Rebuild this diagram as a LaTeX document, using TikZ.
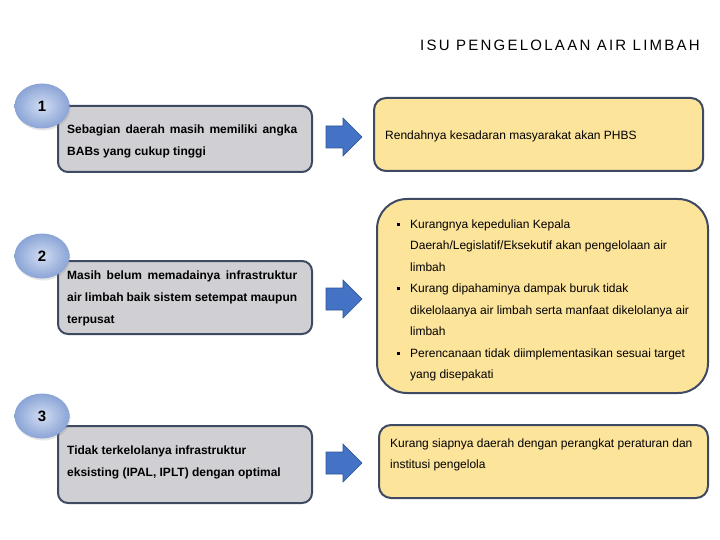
\documentclass[tikz,border=0pt]{standalone}
\usepackage{fontspec}
\setmainfont{Liberation Sans}
\usetikzlibrary{shapes.geometric,shadows}
\definecolor{grayfill}{HTML}{D0D0D4}
\definecolor{yelfill}{HTML}{FDE49B}
\definecolor{edge}{HTML}{3E4A61}
\definecolor{arrfill}{HTML}{4472C4}
\definecolor{arredge}{HTML}{2F5597}
\definecolor{ballin}{HTML}{D2DDF2}
\definecolor{ballout}{HTML}{8AA4D6}
\newcommand{\sqbullet}{\llap{\raisebox{2.5pt}{\rule{3pt}{3pt}}\hspace{10pt}}}
\begin{document}
\begin{tikzpicture}[x=1pt,y=-1pt,
  graybox/.style={draw=edge,line width=2pt,fill=grayfill,rounded corners=10pt,anchor=north west,inner sep=0pt},
  yelbox/.style={draw=edge,line width=2pt,fill=yelfill,rounded corners=12pt,anchor=north west,inner sep=0pt},
  numball/.style={ellipse,minimum width=55pt,minimum height=45pt,inner sep=0pt,inner color=ballin,outer color=ballout,
    drop shadow={opacity=0.2,shadow xshift=1pt,shadow yshift=-2pt},font=\fontsize{15}{15}\selectfont\bfseries},
  arrowshape/.style={fill=arrfill,draw=arredge,line width=0.6pt,line join=miter},
  boldtxt/.style={anchor=west,inner sep=0pt,align=left,font=\fontsize{12}{22}\selectfont\bfseries},
  regtxt/.style={anchor=west,inner sep=0pt,align=left,font=\fontsize{12}{21.5}\selectfont}]
\useasboundingbox (0,0) rectangle (720,540);

% title
\node[inner sep=0pt,font=\fontsize{15}{17}\selectfont] (title) at (560,45) {\addfontfeature{LetterSpace=15}ISU PENGELOLAAN AIR LIMBAH};

% row 1
\node[graybox,minimum width=254pt,minimum height=66pt] (g1) at (57,105) {};
\node[numball] (c1) at (42,106) {1};
\node[boldtxt] (t1) at (67,141) {\makebox[230pt][s]{Sebagian daerah masih memiliki angka}\\BABs yang cukup tinggi};
\coordinate (a1) at (326,137);
\draw[arrowshape] (a1) ++(0,-11) -- ++(17,0) -- ++(0,-8) -- ++(19,19) -- ++(-19,19) -- ++(0,-8) -- ++(-17,0) -- cycle;
\node[yelbox,minimum width=329pt,minimum height=73pt] (y1) at (373,97) {};
\node[regtxt] (r1) at (385,136) {Rendahnya kesadaran masyarakat akan PHBS};

% row 2
\node[graybox,minimum width=254pt,minimum height=73pt] (g2) at (57,260) {};
\node[numball] (c2) at (42,256) {2};
\node[boldtxt] (t2) at (67,298) {\makebox[230pt][s]{Masih belum memadainya infrastruktur}\\\makebox[230pt][s]{air limbah baik sistem setempat maupun}\\terpusat};
\coordinate (a2) at (326,299);
\draw[arrowshape] (a2) ++(0,-11) -- ++(17,0) -- ++(0,-8) -- ++(19,19) -- ++(-19,19) -- ++(0,-8) -- ++(-17,0) -- cycle;
\node[yelbox,rounded corners=30pt,minimum width=331pt,minimum height=194pt] (y2) at (376,198) {};
\node[regtxt] (r2) at (410,300.5) {\sqbullet Kurangnya kepedulian Kepala\\Daerah/Legislatif/Eksekutif akan pengelolaan air\\limbah\\\sqbullet Kurang dipahaminya dampak buruk tidak\\dikelolaanya air limbah serta manfaat dikelolanya air\\limbah\\\sqbullet Perencanaan tidak diimplementasikan sesuai target\\yang disepakati};

% row 3
\node[graybox,minimum width=254pt,minimum height=77pt] (g3) at (57,425) {};
\node[numball] (c3) at (42,416) {3};
\node[boldtxt] (t3) at (67,462.5) {Tidak terkelolanya infrastruktur\\eksisting (IPAL, IPLT) dengan optimal};
\coordinate (a3) at (326,463);
\draw[arrowshape] (a3) ++(0,-11) -- ++(17,0) -- ++(0,-8) -- ++(19,19) -- ++(-19,19) -- ++(0,-8) -- ++(-17,0) -- cycle;
\node[yelbox,minimum width=329pt,minimum height=73pt] (y3) at (378,424) {};
\node[regtxt] (r3) at (390,455) {Kurang siapnya daerah dengan perangkat peraturan dan\\institusi pengelola};
\end{tikzpicture}
\end{document}
